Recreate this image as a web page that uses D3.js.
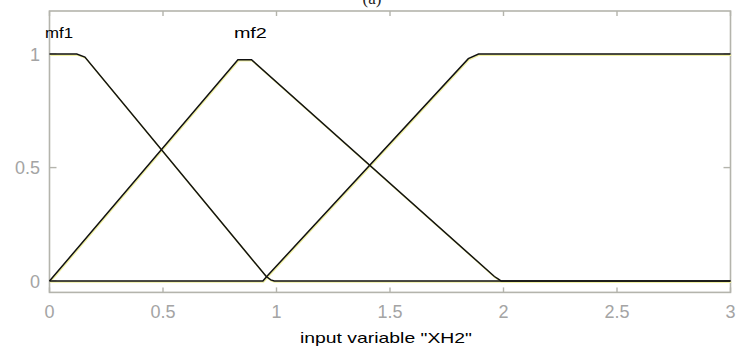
<!DOCTYPE html>
<html><head><meta charset="utf-8">
<script src="https://cdn.jsdelivr.net/npm/d3@7"></script>
<style>body{margin:0;background:#fff}svg{display:block}</style>
</head><body>
<script>
// Data
const xTicks = [0, 0.5, 1, 1.5, 2, 2.5, 3];
const xTickLabels = ["0", "0.5", "1", "1.5", "2", "2.5", "3"];
const yTicks = [0, 0.5, 1];
const yTickLabels = ["0", "0.5", "1"];
const mf1 = [[0,1],[0.12,1],[0.156,0.987],[0.955,0.02],[0.975,0.005],[0.99,0],[3,0]];
const mf2 = [[0,0],[0.83,0.975],[0.89,0.975],[1.96,0.02],[1.976,0.01],[1.99,0],[3,0]];
const mf3 = [[0,0],[0.94,0],[0.957,0.02],[1.845,0.98],[1.89,1],[3,1]];
const mfNames = ["mf1", "mf2"];
const mfLabelX = [0.042, 0.885];
const title = "(a)";
const xLabel = 'input variable "XH2"';

const W = 738, H = 351;
const svg = d3.select("body").append("svg").attr("width", W).attr("height", H);
const xs = d3.scaleLinear().domain([0, 3]).range([49.5, 730.5]);
const ys = d3.scaleLinear().domain([-0.05, 1.19]).range([292.4, 11]);

const frameColor = "#b4b4ac";
const tickColor = "#a4a4a4";
const sans = "Liberation Sans, Arial, sans-serif";

// Frame
svg.append("rect").attr("x", xs(0)).attr("y", ys(1.19)).attr("width", xs(3)-xs(0)).attr("height", ys(-0.05)-ys(1.19))
  .attr("fill", "none").attr("stroke", frameColor).attr("stroke-width", 1.6);

// ticks
const g = svg.append("g");
xTicks.forEach(t => {
  g.append("line").attr("x1", xs(t)).attr("x2", xs(t)).attr("y1", ys(-0.05)).attr("y2", ys(-0.05)-5).attr("stroke", frameColor).attr("stroke-width", 1.4);
  g.append("line").attr("x1", xs(t)).attr("x2", xs(t)).attr("y1", ys(1.19)).attr("y2", ys(1.19)+5).attr("stroke", frameColor).attr("stroke-width", 1.4);
});
yTicks.forEach(t => {
  g.append("line").attr("x1", xs(0)).attr("x2", xs(0)+7).attr("y1", ys(t)).attr("y2", ys(t)).attr("stroke", frameColor).attr("stroke-width", 1.4);
  g.append("line").attr("x1", xs(3)).attr("x2", xs(3)-7).attr("y1", ys(t)).attr("y2", ys(t)).attr("stroke", frameColor).attr("stroke-width", 1.4);
});
xTicks.forEach((t, i) => {
  svg.append("text").attr("x", xs(t)).attr("y", 318).attr("text-anchor", "middle")
    .attr("font-family", sans).attr("font-size", 18).attr("fill", tickColor).text(xTickLabels[i]);
});
yTicks.forEach((t, i) => {
  svg.append("text").attr("x", 40).attr("y", ys(t) + 6.5).attr("text-anchor", "end")
    .attr("font-family", sans).attr("font-size", 18).attr("fill", tickColor).text(yTickLabels[i]);
});

// Lines
const line = d3.line().x(d => xs(d[0])).y(d => ys(d[1]));
[mf1, mf2, mf3].forEach(mf => {
  svg.append("path").attr("d", line(mf)).attr("fill", "none").attr("stroke", "#f0f0a0").attr("stroke-width", 1.6).attr("transform", "translate(0.7,1)");
});
[mf1, mf2, mf3].forEach(mf => {
  svg.append("path").attr("d", line(mf)).attr("fill", "none").attr("stroke", "#111").attr("stroke-width", 1.5);
});

// MF labels
const mfW = [28, 33];
mfNames.forEach((n, i) => {
  svg.append("text").attr("x", xs(mfLabelX[i])).attr("y", 38).attr("text-anchor", "middle")
    .attr("font-family", sans).attr("font-size", 15).attr("fill", "#000")
    .attr("textLength", mfW[i]).attr("lengthAdjust", "spacingAndGlyphs").text(n);
});

// Title (partially cut at top in the reference)
svg.append("text").attr("x", 372).attr("y", 4).attr("text-anchor", "middle")
  .attr("font-family", "Liberation Serif, Times New Roman, serif").attr("font-size", 17).attr("fill", "#222").text(title);

// X label
svg.append("text").attr("x", 386).attr("y", 343).attr("text-anchor", "middle")
  .attr("font-family", sans).attr("font-size", 15).attr("fill", "#000")
  .attr("textLength", 172).attr("lengthAdjust", "spacingAndGlyphs").text(xLabel);
</script>
</body></html>
